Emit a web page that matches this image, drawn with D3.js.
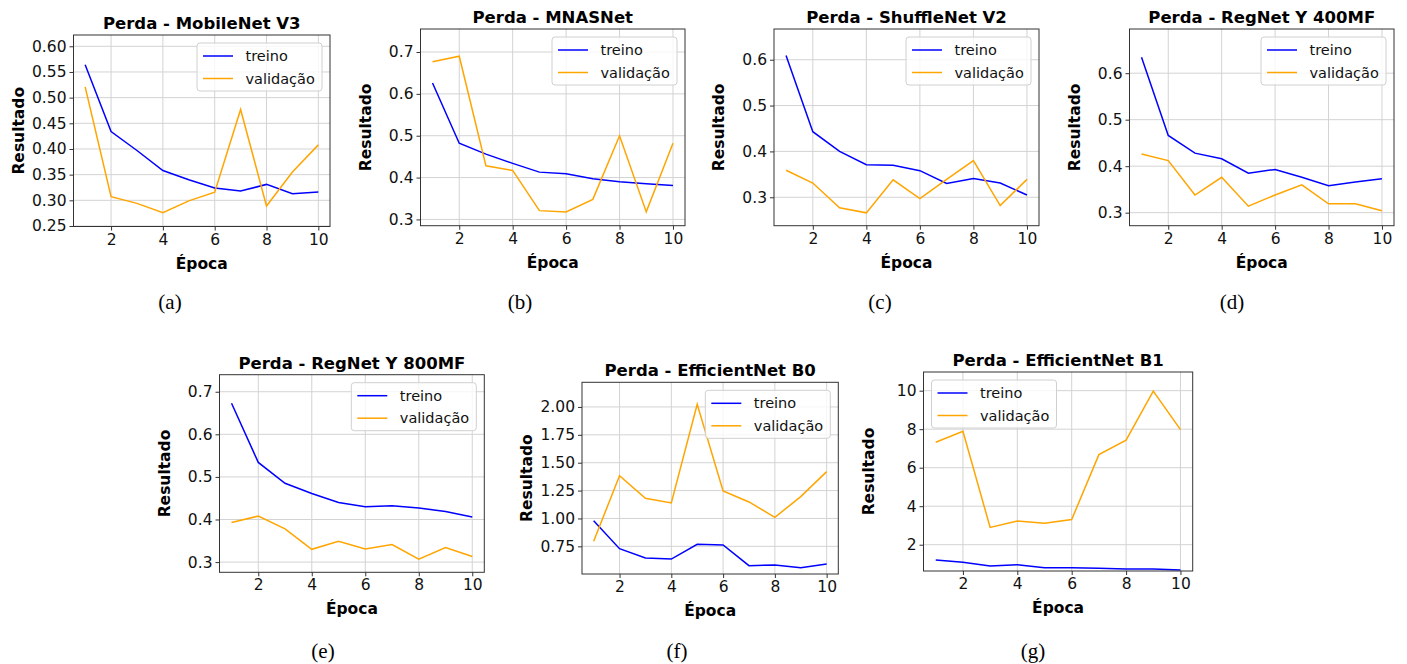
<!DOCTYPE html>
<html><head><meta charset="utf-8">
<script src="https://cdn.jsdelivr.net/npm/d3@7"></script>
<style>body{margin:0;background:#fff}svg{display:block}</style>
</head><body>
<svg id="c" width="1407" height="664"></svg>
<script>
const epochs = [1,2,3,4,5,6,7,8,9,10];
const xTicks = [2,4,6,8,10];
const titles = ["Perda - MobileNet V3","Perda - MNASNet","Perda - ShuffleNet V2","Perda - RegNet Y 400MF","Perda - RegNet Y 800MF","Perda - EfficientNet B0","Perda - EfficientNet B1"];
const captions = ["(a)","(b)","(c)","(d)","(e)","(f)","(g)"];
const seriesNames = ["treino","validação"];
const treino = [
  [0.564,0.434,0.397,0.358,0.340,0.324,0.318,0.331,0.313,0.316],
  [0.626,0.482,0.456,0.434,0.413,0.409,0.397,0.390,0.385,0.381],
  [0.609,0.443,0.400,0.371,0.370,0.358,0.330,0.341,0.331,0.305],
  [0.634,0.466,0.428,0.416,0.385,0.393,0.376,0.358,0.366,0.373],
  [0.673,0.534,0.485,0.461,0.440,0.430,0.432,0.427,0.419,0.406],
  [0.980,0.729,0.645,0.636,0.768,0.762,0.577,0.583,0.559,0.592],
  [1.205,1.084,0.894,0.963,0.808,0.808,0.773,0.739,0.739,0.687]
];
const validacao = [
  [0.521,0.307,0.294,0.276,0.299,0.316,0.477,0.289,0.355,0.408],
  [0.677,0.690,0.428,0.417,0.321,0.318,0.348,0.500,0.318,0.482],
  [0.359,0.331,0.277,0.266,0.338,0.297,0.339,0.380,0.282,0.339],
  [0.426,0.412,0.338,0.376,0.314,0.338,0.360,0.319,0.319,0.304],
  [0.393,0.408,0.378,0.330,0.349,0.331,0.341,0.307,0.334,0.313],
  [0.795,1.384,1.181,1.139,2.024,1.246,1.148,1.010,1.196,1.420],
  [7.32,7.89,2.90,3.23,3.11,3.31,6.68,7.43,9.98,7.98]
];
const yTicks = [
  [0.25,0.30,0.35,0.40,0.45,0.50,0.55,0.60],
  [0.3,0.4,0.5,0.6,0.7],
  [0.3,0.4,0.5,0.6],
  [0.3,0.4,0.5,0.6],
  [0.3,0.4,0.5,0.6,0.7],
  [0.75,1.00,1.25,1.50,1.75,2.00],
  [2,4,6,8,10]
];
const yLims = [
  [0.249,0.622],[0.285,0.755],[0.238,0.667],[0.272,0.695],[0.276,0.740],[0.502,2.221],[0.635,10.97]
];
const yFormats = [".2f",".1f",".1f",".1f",".1f",".2f","d"];

// layout (frame boxes: left, top, right, bottom)
const frames = [
  [73.5,35,330,226.5],
  [420.5,29,685,225.7],
  [774,29,1039,225.7],
  [1129.5,29,1394,225.7],
  [219.5,374.7,484.3,572.3],
  [582,382.3,838.3,574],
  [923.5,372,1192.7,571]
];
const legendLeft = [false,false,false,false,false,false,true];
const captionPos = [[170,302],[520,302],[880,302],[1232,302],[323,651],[677,651],[1033,651]];
const colors = ["#0000ff","#ffa500"];

const svg = d3.select("#c");
const font = "DejaVu Sans";

frames.forEach((f,i)=>{
  const [L,T,R,B] = f;
  const x = d3.scaleLinear().domain([0.55,10.45]).range([L,R]);
  const y = d3.scaleLinear().domain(yLims[i]).range([B,T]);
  const g = svg.append("g");
  // grid
  g.append("g").selectAll("line").data(xTicks).join("line")
    .attr("x1",d=>x(d)).attr("x2",d=>x(d)).attr("y1",T).attr("y2",B)
    .attr("stroke","#d3d3d3").attr("stroke-width",1);
  g.append("g").selectAll("line").data(yTicks[i]).join("line")
    .attr("y1",d=>y(d)).attr("y2",d=>y(d)).attr("x1",L).attr("x2",R)
    .attr("stroke","#d3d3d3").attr("stroke-width",1);
  // axes
  const xa = g.append("g").attr("transform",`translate(0,${B})`)
    .call(d3.axisBottom(x).tickValues(xTicks).tickSize(4).tickPadding(3).tickFormat(d3.format("d")));
  const ya = g.append("g").attr("transform",`translate(${L},0)`)
    .call(d3.axisLeft(y).tickValues(yTicks[i]).tickSize(4).tickPadding(3).tickFormat(d3.format(yFormats[i])));
  [xa,ya].forEach(a=>{
    a.select(".domain").remove();
    a.selectAll("line").attr("stroke","#333");
    a.selectAll("text").attr("font-family",font).attr("font-size",15.5).attr("fill","#111");
  });
  // lines
  const line = d3.line().x((d,k)=>x(epochs[k])).y(d=>y(d));
  [treino[i],validacao[i]].forEach((s,k)=>{
    g.append("path").datum(s).attr("d",line).attr("fill","none")
      .attr("stroke",colors[k]).attr("stroke-width",1.5);
  });
  // frame
  g.append("rect").attr("x",L).attr("y",T).attr("width",R-L).attr("height",B-T)
    .attr("fill","none").attr("stroke","#333").attr("stroke-width",1);
  // title
  g.append("text").attr("x",(L+R)/2).attr("y",T-6).attr("text-anchor","middle")
    .attr("font-family",font).attr("font-weight","bold").attr("font-size",16.5).text(titles[i]);
  // axis labels
  g.append("text").attr("x",(L+R)/2).attr("y",B+42).attr("text-anchor","middle")
    .attr("font-family",font).attr("font-weight","bold").attr("font-size",15.5).text("Época");
  g.append("text").attr("transform",`translate(${L-50},${(T+B)/2}) rotate(-90)`).attr("text-anchor","middle")
    .attr("font-family",font).attr("font-weight","bold").attr("font-size",15.5).text("Resultado");
  // legend
  const lw = 125, lh = 48;
  const lx = legendLeft[i] ? L+8 : R-8-lw;
  const ly = T+8;
  const lg = g.append("g").attr("transform",`translate(${lx},${ly})`);
  lg.append("rect").attr("width",lw).attr("height",lh).attr("rx",3)
    .attr("fill","#fff").attr("fill-opacity",0.8).attr("stroke","#d0d0d0");
  seriesNames.forEach((n,k)=>{
    const yy = 13 + k*22.5;
    lg.append("line").attr("x1",6).attr("x2",36).attr("y1",yy).attr("y2",yy)
      .attr("stroke",colors[k]).attr("stroke-width",1.5);
    lg.append("text").attr("x",48.5).attr("y",yy+5).attr("font-family",font).attr("font-size",14.5)
      .attr("fill","#111").text(n);
  });
  // caption
  svg.append("text").attr("x",captionPos[i][0]).attr("y",captionPos[i][1]+7).attr("text-anchor","middle")
    .attr("font-family","Liberation Serif").attr("font-size",21).text(captions[i]);
});
</script>
</body></html>
